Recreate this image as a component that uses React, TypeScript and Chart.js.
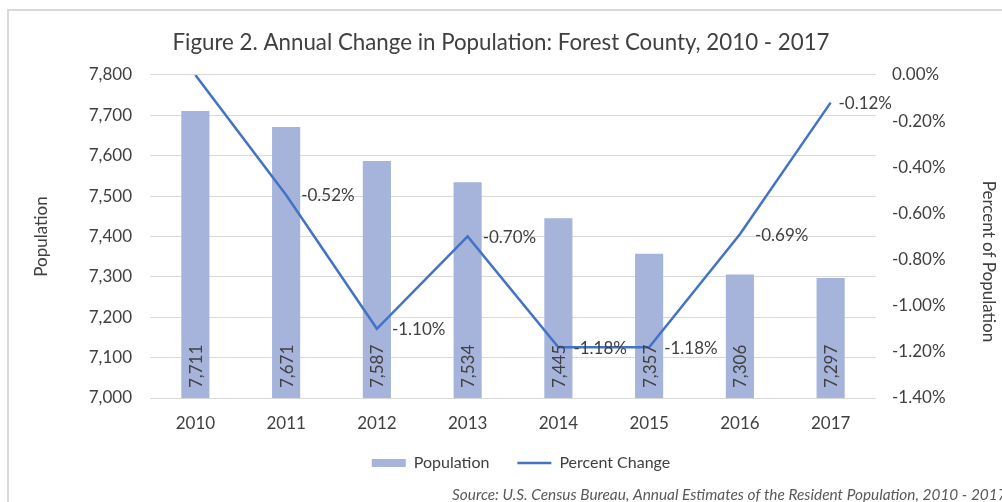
import React, { useEffect, useRef } from "react";
import { Chart, registerables } from "chart.js";

Chart.register(...registerables);

const years = ["2010", "2011", "2012", "2013", "2014", "2015", "2016", "2017"];
const population = [7711, 7671, 7587, 7534, 7445, 7357, 7306, 7297];
const percentChange = [0, -0.52, -1.1, -0.7, -1.18, -1.18, -0.69, -0.12];
const populationAxis = { min: 7000, max: 7800, step: 100 };
const percentAxis = { min: -1.4, max: 0, step: 0.2 };

const TITLE = "Figure 2. Annual Change in Population: Forest County, 2010 - 2017";
const LEFT_TITLE = "Population";
const RIGHT_TITLE = "Percent of Population";
const SOURCE = "Source: U.S. Census Bureau, Annual Estimates of the Resident Population, 2010 - 2017";

const FONT = "Lato, 'Open Sans', sans-serif";
const BAR_COLOR = "#a6b4dc";
const LINE_COLOR = "#4472c4";
const TEXT = "#404040";
const GRID = "#d9d9d9";

const fmtPop = (v: number) => v.toLocaleString("en-US");
const fmtPct = (v: number) => (Math.abs(v) < 1e-9 ? 0 : v).toFixed(2) + "%";

const labelsPlugin = {
  id: "customLabels",
  afterLayout(chart: any) {
    const l = chart.legend;
    if (l) {
      l.left += 20;
      l.right += 20;
      l.top -= 7;
      l.bottom -= 7;
    }
  },
  afterDatasetsDraw(chart: any) {
    const ctx = chart.ctx;
    const area = chart.chartArea;
    ctx.save();
    ctx.fillStyle = TEXT;
    ctx.font = `17px ${FONT}`;
    // bar labels rotated inside bars
    const barMeta = chart.getDatasetMeta(0);
    barMeta.data.forEach((bar: any, i: number) => {
      ctx.save();
      ctx.translate(bar.x, area.bottom - 10);
      ctx.rotate(-Math.PI / 2);
      ctx.textAlign = "left";
      ctx.textBaseline = "middle";
      ctx.fillText(fmtPop(chart.data.datasets[0].data[i]), 0, 1);
      ctx.restore();
    });
    // line labels to the right of points (no change value for first year)
    const lineMeta = chart.getDatasetMeta(1);
    lineMeta.data.forEach((pt: any, i: number) => {
      if (i === 0) return;
      const txt = fmtPct(chart.data.datasets[1].data[i]);
      const w = ctx.measureText(txt).width;
      const x = Math.min(pt.x + 15, area.right + 16 - w);
      ctx.textAlign = "left";
      ctx.textBaseline = "middle";
      ctx.fillText(txt, x, pt.y + 1);
    });
    ctx.restore();
  },
  afterDraw(chart: any) {
    const ctx = chart.ctx;
    const area = chart.chartArea;
    ctx.save();
    // right axis title
    ctx.fillStyle = TEXT;
    ctx.font = `17px ${FONT}`;
    ctx.translate(988, (area.top + area.bottom) / 2 + 25);
    ctx.rotate(Math.PI / 2);
    ctx.textAlign = "center";
    ctx.textBaseline = "middle";
    ctx.fillText(RIGHT_TITLE, 0, 0);
    ctx.restore();
    // source note
    ctx.save();
    ctx.fillStyle = "#595959";
    ctx.font = `italic 15.4px ${FONT}`;
    ctx.textAlign = "left";
    ctx.textBaseline = "middle";
    ctx.fillText(SOURCE, 452, 495);
    ctx.restore();
  },
};

export default function App() {
  const ref = useRef<HTMLCanvasElement | null>(null);
  useEffect(() => {
    if (!ref.current) return;
    const chart = new Chart(ref.current, {
      type: "bar",
      data: {
        labels: years,
        datasets: [
          {
            type: "bar",
            label: "Population",
            data: population,
            backgroundColor: BAR_COLOR,
            borderWidth: 0,
            yAxisID: "y",
            order: 1,
            categoryPercentage: 1,
            barPercentage: 0.31,
          } as any,
          {
            type: "line",
            label: "Percent Change",
            data: percentChange,
            borderColor: LINE_COLOR,
            backgroundColor: LINE_COLOR,
            borderWidth: 2.5,
            pointRadius: 0,
            tension: 0,
            yAxisID: "y1",
            order: 0,
          } as any,
        ],
      },
      options: {
        responsive: false,
        animation: false,
        layout: { padding: { left: 0, right: 0, top: 0, bottom: 14 } },
        plugins: {
          tooltip: { enabled: false },
          title: {
            display: true,
            text: TITLE,
            color: TEXT,
            font: { family: FONT, size: 22.3, weight: "normal" },
            padding: { top: 29, bottom: 19.2 },
          },
          legend: {
            position: "bottom",
            labels: {
              usePointStyle: true,
              pointStyleWidth: 34,
              boxHeight: 8,
              padding: 28,
              color: TEXT,
              font: { family: FONT, size: 16 },
              generateLabels: (chart: any) =>
                chart.data.datasets.map((ds: any, i: number) => ({
                  text: ds.label,
                  fillStyle: i === 0 ? BAR_COLOR : LINE_COLOR,
                  strokeStyle: i === 0 ? BAR_COLOR : LINE_COLOR,
                  lineWidth: i === 0 ? 0 : 2.5,
                  pointStyle: i === 0 ? "rect" : "line",
                  datasetIndex: i,
                  hidden: false,
                  fontColor: TEXT,
                })),
            },
          },
        },
        scales: {
          x: {
            grid: { display: false, drawTicks: false },
            border: { display: false },
            ticks: { color: TEXT, font: { family: FONT, size: 17 }, padding: 15 },
            afterFit: (s: any) => {
              s.height = 36;
            },
          },
          y: {
            position: "left",
            min: populationAxis.min,
            max: populationAxis.max,
            grid: { color: GRID, drawTicks: false },
            border: { display: false },
            ticks: {
              stepSize: populationAxis.step,
              color: TEXT,
              font: { family: FONT, size: 17 },
              padding: 18,
              callback: (v: any) => fmtPop(Number(v)),
            },
            title: {
              display: true,
              text: LEFT_TITLE,
              color: TEXT,
              font: { family: FONT, size: 17 },
              padding: { top: 31, bottom: 0 },
            },
            afterFit: (s: any) => {
              s.width = 150;
            },
          },
          y1: {
            position: "right",
            min: percentAxis.min,
            max: percentAxis.max,
            grid: { display: false, drawTicks: false },
            border: { display: false },
            ticks: {
              stepSize: percentAxis.step,
              color: TEXT,
              font: { family: FONT, size: 17 },
              padding: 16,
              callback: (v: any) => fmtPct(Number(v)),
            },
            afterFit: (s: any) => {
              s.width = 126;
            },
          },
        },
      } as any,
      plugins: [labelsPlugin],
    });
    return () => chart.destroy();
  }, []);
  return (
    <div
      style={{
        position: "fixed",
        left: 0,
        top: 0,
        width: 1002,
        height: 502,
        overflow: "hidden",
        background: "#fff",
      }}
    >
      <div
        style={{
          position: "absolute",
          left: 7,
          top: 9,
          width: 2000,
          height: 2000,
          border: "2px solid #d9d9d9",
        }}
      />
      <canvas
        ref={ref}
        width={1002}
        height={502}
        style={{ position: "absolute", left: 0, top: 0, width: 1002, height: 502 }}
      />
    </div>
  );
}
